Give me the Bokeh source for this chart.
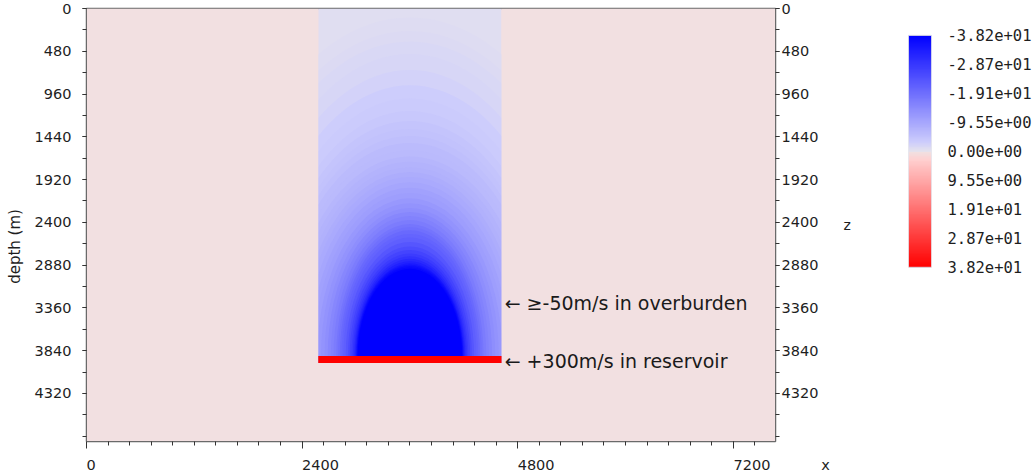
import numpy as np
from bokeh.plotting import figure
from bokeh.models import Range1d, LinearColorMapper, FixedTicker, ColumnDataSource, LinearAxis
from bokeh.transform import transform
from bokeh.layouts import row
from bokeh.core.properties import value
from bokeh.embed import file_html
from bokeh.resources import INLINE

# ---- model extent (m) ----
x_extent = [0, 7670]
depth_extent = [0, 4860]

# ---- anomaly geometry (m) ----
box_x = [2580, 4620]
box_depth = [0, 3900]
box_dv = [-0.7]                       # perturbation at the top corners of the box
reservoir_depth = [3900, 3980]
reservoir_dv = [300]

# ---- overburden perturbation as nested iso-value ellipses
# centred at the middle of the top of the reservoir; semi-axes in metres
iso_center = [3600, 3900]
iso_dv = [-1.0, -1.3, -1.6, -2.0, -2.5, -3.0, -3.5, -4.0, -4.5, -5.0, -5.5, -6.0, -6.5, -7.0,
          -7.5, -8.0, -8.5, -9.0, -9.75, -10.5, -11.25, -12.0, -13.0, -14.0, -15.0, -16.0,
          -17.0, -18.0, -19.0, -20.0, -21.0, -22.0, -23.5, -25.0, -26.5, -28.0, -29.5, -31.0,
          -32.5, -34.0, -35.0, -36.0, -37.0, -38.2]
iso_half_height = [3800, 3650, 3530, 3390, 3210, 3040, 2890, 2750, 2640, 2550, 2470, 2390, 2310,
                   2240, 2180, 2120, 2065, 2010, 1950, 1890, 1830, 1770, 1715, 1660, 1615, 1570,
                   1525, 1480, 1445, 1410, 1370, 1330, 1280, 1230, 1190, 1150, 1120, 1090,
                   1065, 1040, 1025, 1010, 995, 980]
iso_half_width = [2250, 2130, 2050, 1930, 1840, 1750, 1680, 1610, 1560, 1520, 1485, 1450, 1410,
                  1370, 1325, 1280, 1240, 1200, 1155, 1110, 1070, 1030, 990, 950, 915, 880,
                  850, 820, 800, 780, 760, 740, 715, 690, 670, 650, 635, 620,
                  610, 600, 595, 590, 585, 580]

# ---- colour scale ----
cb_low, cb_high = -38.2, 38.2
cb_ticks = [-38.2, -28.65, -19.1, -9.55, 0, 9.55, 19.1, 28.65, 38.2]
cb_labels = ["-3.82e+01", "-2.87e+01", "-1.91e+01", "-9.55e+00", "0.00e+00",
             "9.55e+00", "1.91e+01", "2.87e+01", "3.82e+01"]

# ---- axes ----
x_ticks = [0, 2400, 4800, 7200]
x_tick_labels = ["0", "2400", "4800", "7200"]
x_label = "x"
x_minor = list(range(0, 7670, 240))
z_ticks = [0, 480, 960, 1440, 1920, 2400, 2880, 3360, 3840, 4320]
z_minor = list(range(0, 4860, 240))
z_label_left = "depth (m)"
z_label_right = "z"

# ---- annotations ----
annot_x = [4655, 4655]
annot_y = [3304, 3951]
annot_text = ["\u2190 \u2265-50m/s in overburden", "\u2190 +300m/s in reservoir"]


# ---- palette (blue - near white - red) ----
def ramp(c0, c1, n):
    return [tuple(int(round(a + (b - a) * i / (n - 1))) for a, b in zip(c0, c1)) for i in range(n)]


neg = ramp((0, 0, 255), (205, 205, 252), 118) + ramp((209, 208, 250), (228, 226, 238), 10)
pos = ramp((242, 224, 225), (255, 208, 208), 10) + ramp((255, 204, 204), (255, 0, 0), 118)
palette = ["#%02x%02x%02x" % c for c in neg + pos]
zero_color = palette[128]
mapper = LinearColorMapper(palette=palette, low=cb_low, high=cb_high)

FONT = "DejaVu Sans"
TXT = "#1e1e1e"
FRAME = "#6a6a6a"
NB = "\u00a0"
W, H = 1034, 475
TOP, BOTTOM = 8, 32
W1 = 878

p = figure(width=W1, height=H,
           x_range=Range1d(x_extent[0], x_extent[1]),
           y_range=Range1d(depth_extent[1], depth_extent[0]),
           output_backend="svg", toolbar_location=None,
           min_border_left=86, min_border_right=W1 - 775, min_border_top=TOP, min_border_bottom=BOTTOM)
p.grid.visible = False
p.outline_line_color = FRAME
p.outline_line_width = 1.5
p.background_fill_color = zero_color
p.border_fill_color = "white"

# overburden box
box_src = ColumnDataSource(dict(l=[box_x[0]], r=[box_x[1]], t=[box_depth[0]], b=[box_depth[1]], v=box_dv))
p.quad(left="l", right="r", top="t", bottom="b", source=box_src,
       fill_color=transform("v", mapper), line_color=None)
iso_src = ColumnDataSource(dict(
    x=[iso_center[0]] * len(iso_dv), y=[iso_center[1]] * len(iso_dv),
    w=[2 * v for v in iso_half_width], h=[2 * v for v in iso_half_height], v=iso_dv))
p.ellipse(x="x", y="y", width="w", height="h", source=iso_src,
          fill_color=transform("v", mapper), line_color=None)
# unperturbed model outside the box
mask_src = ColumnDataSource(dict(
    l=[x_extent[0], box_x[1], x_extent[0]],
    r=[box_x[0], x_extent[1], x_extent[1]],
    t=[depth_extent[0], depth_extent[0], reservoir_depth[1]],
    b=[depth_extent[1], depth_extent[1], depth_extent[1]]))
p.quad(left="l", right="r", top="t", bottom="b", source=mask_src,
       fill_color=zero_color, line_color=None)
# reservoir
res_src = ColumnDataSource(dict(l=[box_x[0]], r=[box_x[1]], t=[reservoir_depth[0]],
                                b=[reservoir_depth[1]], v=reservoir_dv))
p.quad(left="l", right="r", top="t", bottom="b", source=res_src,
       fill_color=transform("v", mapper), line_color=None)

p.text(x=annot_x, y=annot_y, text=annot_text, text_font=value(FONT), text_font_size="19px",
       text_baseline="middle", text_align="left", text_color="#1a1a1a")


def style_axis(ax, tick_out, minor_out, standoff):
    ax.axis_line_color = FRAME
    ax.major_tick_line_color = "#333333"
    ax.minor_tick_line_color = "#333333"
    ax.major_tick_out = tick_out
    ax.major_tick_in = 0
    ax.minor_tick_out = minor_out
    ax.minor_tick_in = 0
    ax.major_label_standoff = standoff
    ax.major_label_text_font = FONT
    ax.major_label_text_font_size = "14.5px"
    ax.major_label_text_color = TXT
    ax.axis_label_text_font = FONT
    ax.axis_label_text_font_size = "15px"
    ax.axis_label_text_font_style = "normal"
    ax.axis_label_text_color = TXT


xa = p.xaxis[0]
xa.ticker = FixedTicker(ticks=x_ticks, minor_ticks=x_minor)
style_axis(xa, 7, 4, 8)
# tick labels start at their tick (digits are two no-break spaces wide)
xlabels = {t: NB * (2 * len(s)) + s for t, s in zip(x_ticks, x_tick_labels)}
# the axis name "x" sits on the tick-label line, right of the last tick label
last = x_tick_labels[-1]
xlabels[x_ticks[-1]] = NB * (2 * len(last) + 11 + 2) + last + NB * 11 + x_label
xa.major_label_overrides = xlabels

ya = p.yaxis[0]
ya.ticker = FixedTicker(ticks=z_ticks, minor_ticks=z_minor)
style_axis(ya, 4, 4, 11)
ya.axis_label = z_label_left + NB * 9
ya.axis_label_standoff = 8

yr = LinearAxis(ticker=FixedTicker(ticks=z_ticks, minor_ticks=z_minor))
style_axis(yr, 4, 4, 2)
yr.axis_label = z_label_right
yr.axis_label_standoff = 22
yr.axis_label_text_font_size = "14px"
if "axis_label_orientation" in LinearAxis.properties():
    yr.axis_label_orientation = "horizontal"
p.add_layout(yr, "right")

# ---- colour bar (full-height frame, bar drawn in its upper part) ----
frame_px = H - TOP - BOTTOM
bar_top_px, bar_px = 27, 233
u = (cb_high - cb_low) / bar_px
W2 = W - W1
p2 = figure(width=W2, height=H, x_range=Range1d(0, 1),
            y_range=Range1d(cb_high + (frame_px - bar_top_px - bar_px) * u, cb_low - bar_top_px * u),
            output_backend="svg", toolbar_location=None, x_axis_location=None,
            y_axis_location="right",
            min_border_left=908 - W1, min_border_right=W2 - (908 - W1) - 27,
            min_border_top=TOP, min_border_bottom=BOTTOM)
p2.grid.visible = False
p2.outline_line_color = None
cb_vals = np.linspace(cb_low, cb_high, 256).reshape(256, 1)
p2.image(image=[cb_vals], x=0, y=cb_low, dw=1, dh=cb_high - cb_low, color_mapper=mapper)
p2.quad(left=[0], right=[1], top=[cb_low], bottom=[cb_high], fill_color=None,
        line_color="#d6d6e2", line_width=1)
ca = p2.yaxis[0]
ca.ticker = FixedTicker(ticks=cb_ticks)
ca.major_label_overrides = dict(zip(cb_ticks, cb_labels))
ca.axis_line_color = None
ca.major_tick_line_color = None
ca.minor_tick_line_color = None
ca.major_label_standoff = 10
ca.major_label_text_font = "DejaVu Sans Mono"
ca.major_label_text_font_size = "15.5px"
ca.major_label_text_color = TXT

layout = row(p, p2)
open("out.html", "w").write(file_html(layout, INLINE))
